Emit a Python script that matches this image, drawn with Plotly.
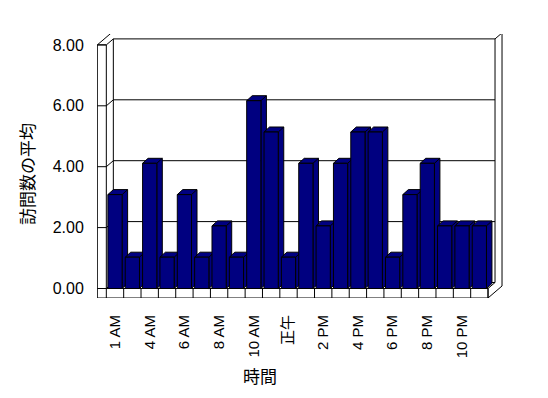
import plotly.graph_objects as go

# ---------------- data ----------------
hours = ["1 AM", "3 AM", "4 AM", "5 AM", "6 AM", "7 AM", "8 AM", "9 AM", "10 AM", "11 AM",
         "正午", "1 PM", "2 PM", "3 PM", "4 PM", "5 PM", "6 PM", "7 PM", "8 PM", "9 PM",
         "10 PM", "11 PM"]
avg_visits = [3, 1, 4, 1, 3, 1, 2, 1, 6, 5, 1, 4, 2, 4, 5, 5, 1, 3, 4, 2, 2, 2]
shown_labels = ["1 AM", "4 AM", "6 AM", "8 AM", "10 AM", "正午", "2 PM", "4 PM", "6 PM", "8 PM", "10 PM"]
y_ticks = [0, 2, 4, 6, 8]
y_title = "訪問数の平均"
x_title = "時間"

# ---------------- layout geometry ----------------
W, H = 548, 398
L, R, T, B = 97, 45, 34, 100
PW, PH = W - L - R, H - T - B
PXX = 17.35          # px per category
FIRST = 18.0         # px from plot left to first category centre
ZERO = 9.5           # px from plot bottom to value 0
YB = 31.3            # px per unit for bars
YF = 30.45           # px per unit for frame / axis

xr = [-FIRST / PXX, (PW - FIRST) / PXX]
yr_bar = [-ZERO / YB, (PH - ZERO) / YB]
yr_frame = [-ZERO / YF, (PH - ZERO) / YF]

NAVY = "#000080"
BW = 0.82
BDX, BDY = 5.5 / PXX, 5.0 / YB     # bar depth
DX, DY = 7.0 / PXX, 6.0 / YF       # front -> back wall
TX, TY = 9.0 / PXX, 9.5 / YF       # wall / floor thickness

idx = list(range(len(hours)))
ymax = y_ticks[-1]

fig = go.Figure()

# side and top faces of each bar
for i, v in zip(idx, avg_visits):
    xl, xrr = i - BW / 2, i + BW / 2
    xs = [xrr, xl, xl + BDX, xrr + BDX, xrr, xrr, xrr + BDX, xrr + BDX]
    ys = [v, v, v + BDY, v + BDY, v, 0, BDY, v + BDY]
    fig.add_trace(go.Scatter(x=xs, y=ys, mode="lines", fill="toself",
                             fillcolor=NAVY, line=dict(color="black", width=1),
                             hoverinfo="skip", yaxis="y"))

# front faces
fig.add_trace(go.Bar(x=idx, y=avg_visits, width=BW, yaxis="y3",
                     marker=dict(color=NAVY, line=dict(color="black", width=1)),
                     hovertext=hours))

# frame (walls / floor) in axis units
xL, xR = idx[0] - 0.5, idx[-1] + 0.5
shapes = []


def seg(x0, y0, x1, y1):
    shapes.append(dict(type="line", xref="x", yref="y2", x0=x0, y0=y0, x1=x1, y1=y1,
                       line=dict(color="black", width=1), layer="below"))


seg(xL - TX, -TY, xL - TX, ymax)
seg(xL, 0, xL, ymax)
seg(xL - TX, ymax, xL, ymax)
seg(xL - TX, ymax, xL - TX + 2 * DX, ymax + 2 * DY)
seg(xL - TX + 2 * DX, ymax + 2 * DY, xR + 2 * DX, ymax + 2 * DY)
seg(xL + DX, DY, xL + DX, ymax + DY)
seg(xR + DX, DY, xR + DX, ymax + DY)
seg(xR + DX, ymax + DY, xR + 2 * DX, ymax + 2 * DY)
seg(xR + 2 * DX, ymax + 2 * DY, xR + 2 * DX, -TY + 2 * DY)
seg(xL - TX, -TY, xR, -TY)
seg(xR, -TY, xR, 0)
seg(xR, 0, xR + DX, DY)
seg(xR, -TY, xR + 2 * DX, -TY + 2 * DY)
for v in y_ticks:
    seg(xL - TX, v, xL, v)
    seg(xL, v, xL + DX, v + DY)
    seg(xL + DX, v + DY, xR + DX, v + DY)
seg(xL, 0, xR, 0)
for k in range(len(hours) + 1):
    seg(k - 0.5, -TY, k - 0.5, 0)


def px(p):
    return (p - L) / PW


def py(p):
    return (H - B - p) / PH


annotations = [
    dict(text=y_title, x=px(26), y=py(174), xref="paper", yref="paper", showarrow=False,
         textangle=-90, font=dict(family="Noto Sans CJK JP", size=17, color="black"),
         xanchor="center", yanchor="middle"),
    dict(text=x_title, x=px(260), y=py(375), xref="paper", yref="paper", showarrow=False,
         font=dict(family="Noto Sans CJK JP", size=17, color="black"),
         xanchor="center", yanchor="middle"),
]

fig.update_layout(
    width=W, height=H, margin=dict(l=L, r=R, t=T, b=B, pad=0),
    paper_bgcolor="white", plot_bgcolor="white", showlegend=False, hovermode=False,
    shapes=shapes, annotations=annotations,
    font=dict(family="Liberation Sans, Arial, Noto Sans CJK JP", color="black"),
    xaxis=dict(range=xr, showgrid=False, zeroline=False, showline=False,
               tickmode="array", tickvals=[hours.index(s) for s in shown_labels],
               ticktext=shown_labels, tickangle=-90, ticks="outside", ticklen=10,
               tickcolor="rgba(0,0,0,0)",
               tickfont=dict(family="Liberation Sans, Arial, Noto Sans CJK JP", size=15)),
    yaxis=dict(range=yr_bar, visible=False),
    yaxis3=dict(range=yr_bar, visible=False, overlaying="y"),
    yaxis2=dict(range=yr_frame, overlaying="y", side="left", anchor="x",
                tickmode="array", tickvals=y_ticks, tickformat=".2f",
                showgrid=False, zeroline=False, showline=False,
                ticks="outside", ticklen=9, tickcolor="rgba(0,0,0,0)",
                tickfont=dict(family="Liberation Sans, Arial", size=16)),
)

fig.write_html("out.html")
